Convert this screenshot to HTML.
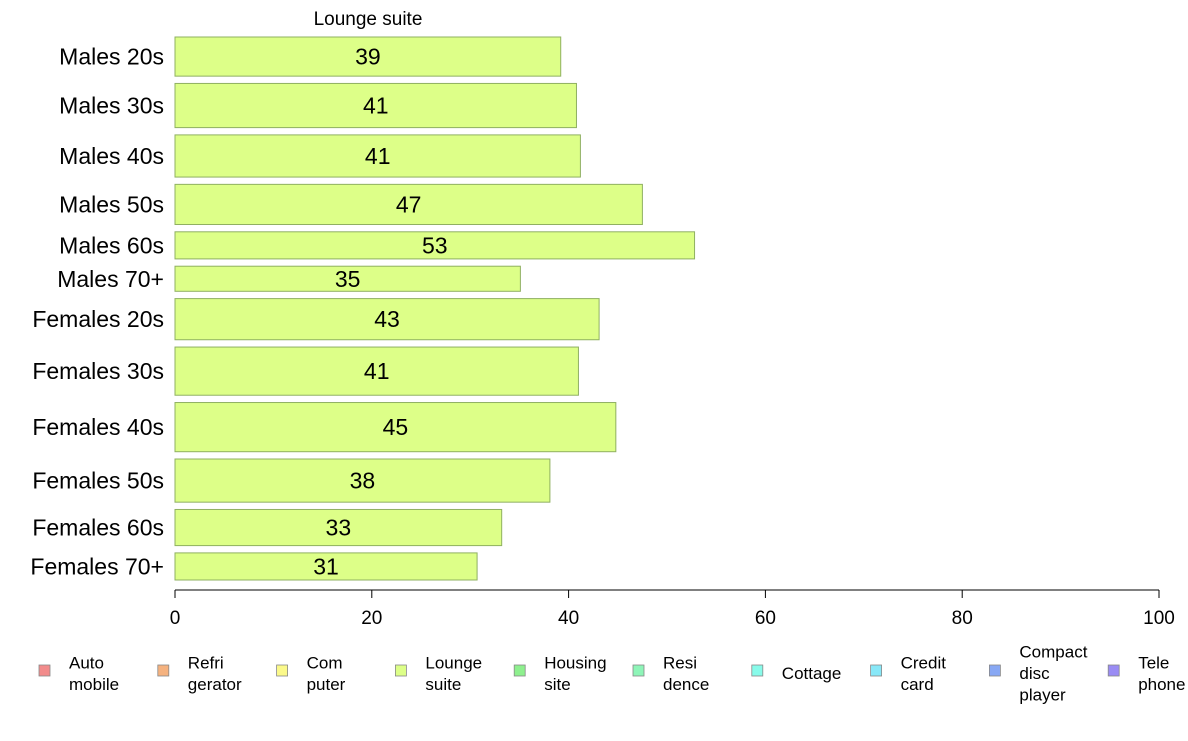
<!DOCTYPE html>
<html><head><meta charset="utf-8"><style>
body{margin:0;background:#fff;font-family:"Liberation Sans",Arial,sans-serif}
</style></head><body>
<svg id="chart" width="1188" height="736" xmlns="http://www.w3.org/2000/svg" font-family="Liberation Sans, Arial, sans-serif"></svg>
<script>
const categories=["Males 20s","Males 30s","Males 40s","Males 50s","Males 60s","Males 70+","Females 20s","Females 30s","Females 40s","Females 50s","Females 60s","Females 70+"];
const values=[39.2,40.8,41.2,47.5,52.8,35.1,43.1,41.0,44.8,38.1,33.2,30.7];
const labels=["39","41","41","47","53","35","43","41","45","38","33","31"];
const weights=[39,44,42,40,27,25,41,48,49,43,36,27];
const xTicks=[0,20,40,60,80,100];
const legendNames=[["Auto","mobile"],["Refri","gerator"],["Com","puter"],["Lounge","suite"],["Housing","site"],["Resi","dence"],["Cottage"],["Credit","card"],["Compact","disc","player"],["Tele","phone"]];
const legendColors=["#f28b8b","#f5b27f","#fbf98a","#ddff88","#8ef08e","#8ef5b8","#88fbea","#88e8f8","#88a8f4","#9a8cf4"];
const svg=document.getElementById('chart');const NS="http://www.w3.org/2000/svg";
function mk(t,a,p){const e=document.createElementNS(NS,t);for(const k in a)e.setAttribute(k,a[k]);(p||svg).appendChild(e);return e;}
const x0=175,x1=1159,yTop=37,yBottom=580,gap=7.3;
const xs=v=>x0+(v/100)*(x1-x0);
const totalW=weights.reduce((a,b)=>a+b,0);
const unit=(yBottom-yTop-gap*(weights.length-1))/totalW;
let t=mk('text',{x:368,y:25,'font-size':19,'text-anchor':'middle'});t.textContent="Lounge suite";


let yy=yTop;
categories.forEach((c,i)=>{
 const h=weights[i]*unit;
 const r=mk('rect',{x:x0,y:yy,width:xs(values[i])-x0,height:h,fill:"#ddff88",stroke:"#8fb061","stroke-width":1});
 
 
 const v=mk('text',{x:(x0+xs(values[i]))/2,y:yy+h/2+8,'font-size':23,'text-anchor':'middle'});v.textContent=labels[i];
 
 
 const l=mk('text',{x:164,y:yy+h/2+8,'font-size':23,'text-anchor':'end'});l.textContent=c;
 
 
 yy+=h+gap;
});
const ax=mk('line',{x1:x0,x2:x1,y1:590,y2:590,stroke:"#000"});


xTicks.forEach(v=>{
 const tk=mk('line',{x1:xs(v),x2:xs(v),y1:590,y2:598,stroke:"#000"});
 
 
 const tl=mk('text',{x:xs(v),y:624,'font-size':19,'text-anchor':'middle'});tl.textContent=v;
 
 
});
legendNames.forEach((n,i)=>{
 const lx=39+i*118.8;
 const g=mk('g',{});
 
 
 mk('rect',{x:lx,y:665,width:11,height:11,fill:legendColors[i],stroke:"#888","stroke-width":0.8},g);
 const lh=21.5,y0=673-(n.length-1)*lh/2+6;
 n.forEach((s,j)=>{const tt=mk('text',{x:lx+30,y:y0+j*lh,'font-size':17},g);tt.textContent=s;});
});
</script>
</body></html>
